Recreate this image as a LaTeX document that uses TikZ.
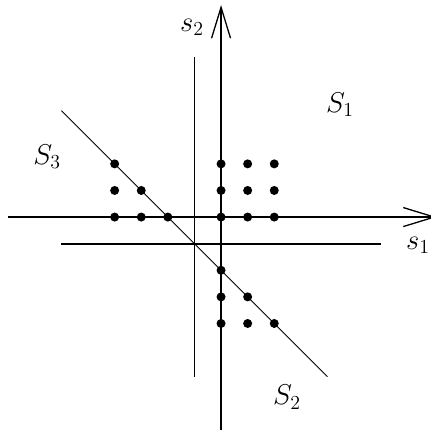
\documentclass[tikz,border=0pt]{standalone}
\usepackage{amsmath}
\usepackage{graphicx}
\usetikzlibrary{arrows.meta}
\newcommand{\reglabel}[1]{\scalebox{1.38}{$#1$}}
\tikzset{
  axis/.style={line width=1.8pt,-{Straight Barb[length=31pt,width=19pt,line width=1.3pt]}},
  bound/.style={line width=1.8pt},
  diag/.style={line width=1pt},
  pt/.style={circle, fill=black, inner sep=0pt, minimum size=9pt},
  region/.style={font=\fontsize{20}{24}\selectfont}
}
\begin{document}
\begin{tikzpicture}[x=26.6pt, y=26.6pt]
    \useasboundingbox (-8.31,-8.08) rectangle (7.86,8.16);
    % axes
    \coordinate (xl) at (-8,0);
    \coordinate (xr) at (8.1,0);
    \coordinate (yb) at (0,-8);
    \coordinate (yt) at (0,7.97);
    \draw [axis] (xl) -- (xr);
    \draw [axis] (yb) -- (yt);
    % boundaries
    \coordinate (vt) at (-1,6);
    \coordinate (vb) at (-1,-6);
    \coordinate (hl) at (-6,-1);
    \coordinate (hr) at (6,-1);
    \coordinate (dt) at (-6,4);
    \coordinate (db) at (4,-6);
    \draw [bound] (vt) -- (vb);
    \draw [bound] (hl) -- (hr);
    \draw [diag] (dt) -- (db);
    % lattice points
    \foreach \p in {(-4,2),(0,2),(1,2),(2,2),
                    (-4,1),(-3,1),(0,1),(1,1),(2,1),
                    (-4,0),(-3,0),(-2,0),(0,0),(1,0),(2,0),
                    (0,-2),(0,-3),(1,-3),(0,-4),(1,-4),(2,-4)}
        \node [pt] at \p {};
    % labels
    \node (s1) [region] at (7.4,-1.05) {\reglabel{s_1}};
    \node (s2) [region] at (-1.09,7.14) {\reglabel{s_2}};
    \node (S1) [region] at (4.47,4.21) {\reglabel{S_1}};
    \node (S2) [region] at (2.48,-6.77) {\reglabel{S_2}};
    \node (S3) [region] at (-6.54,2.26) {\reglabel{S_3}};
\end{tikzpicture}
\end{document}
